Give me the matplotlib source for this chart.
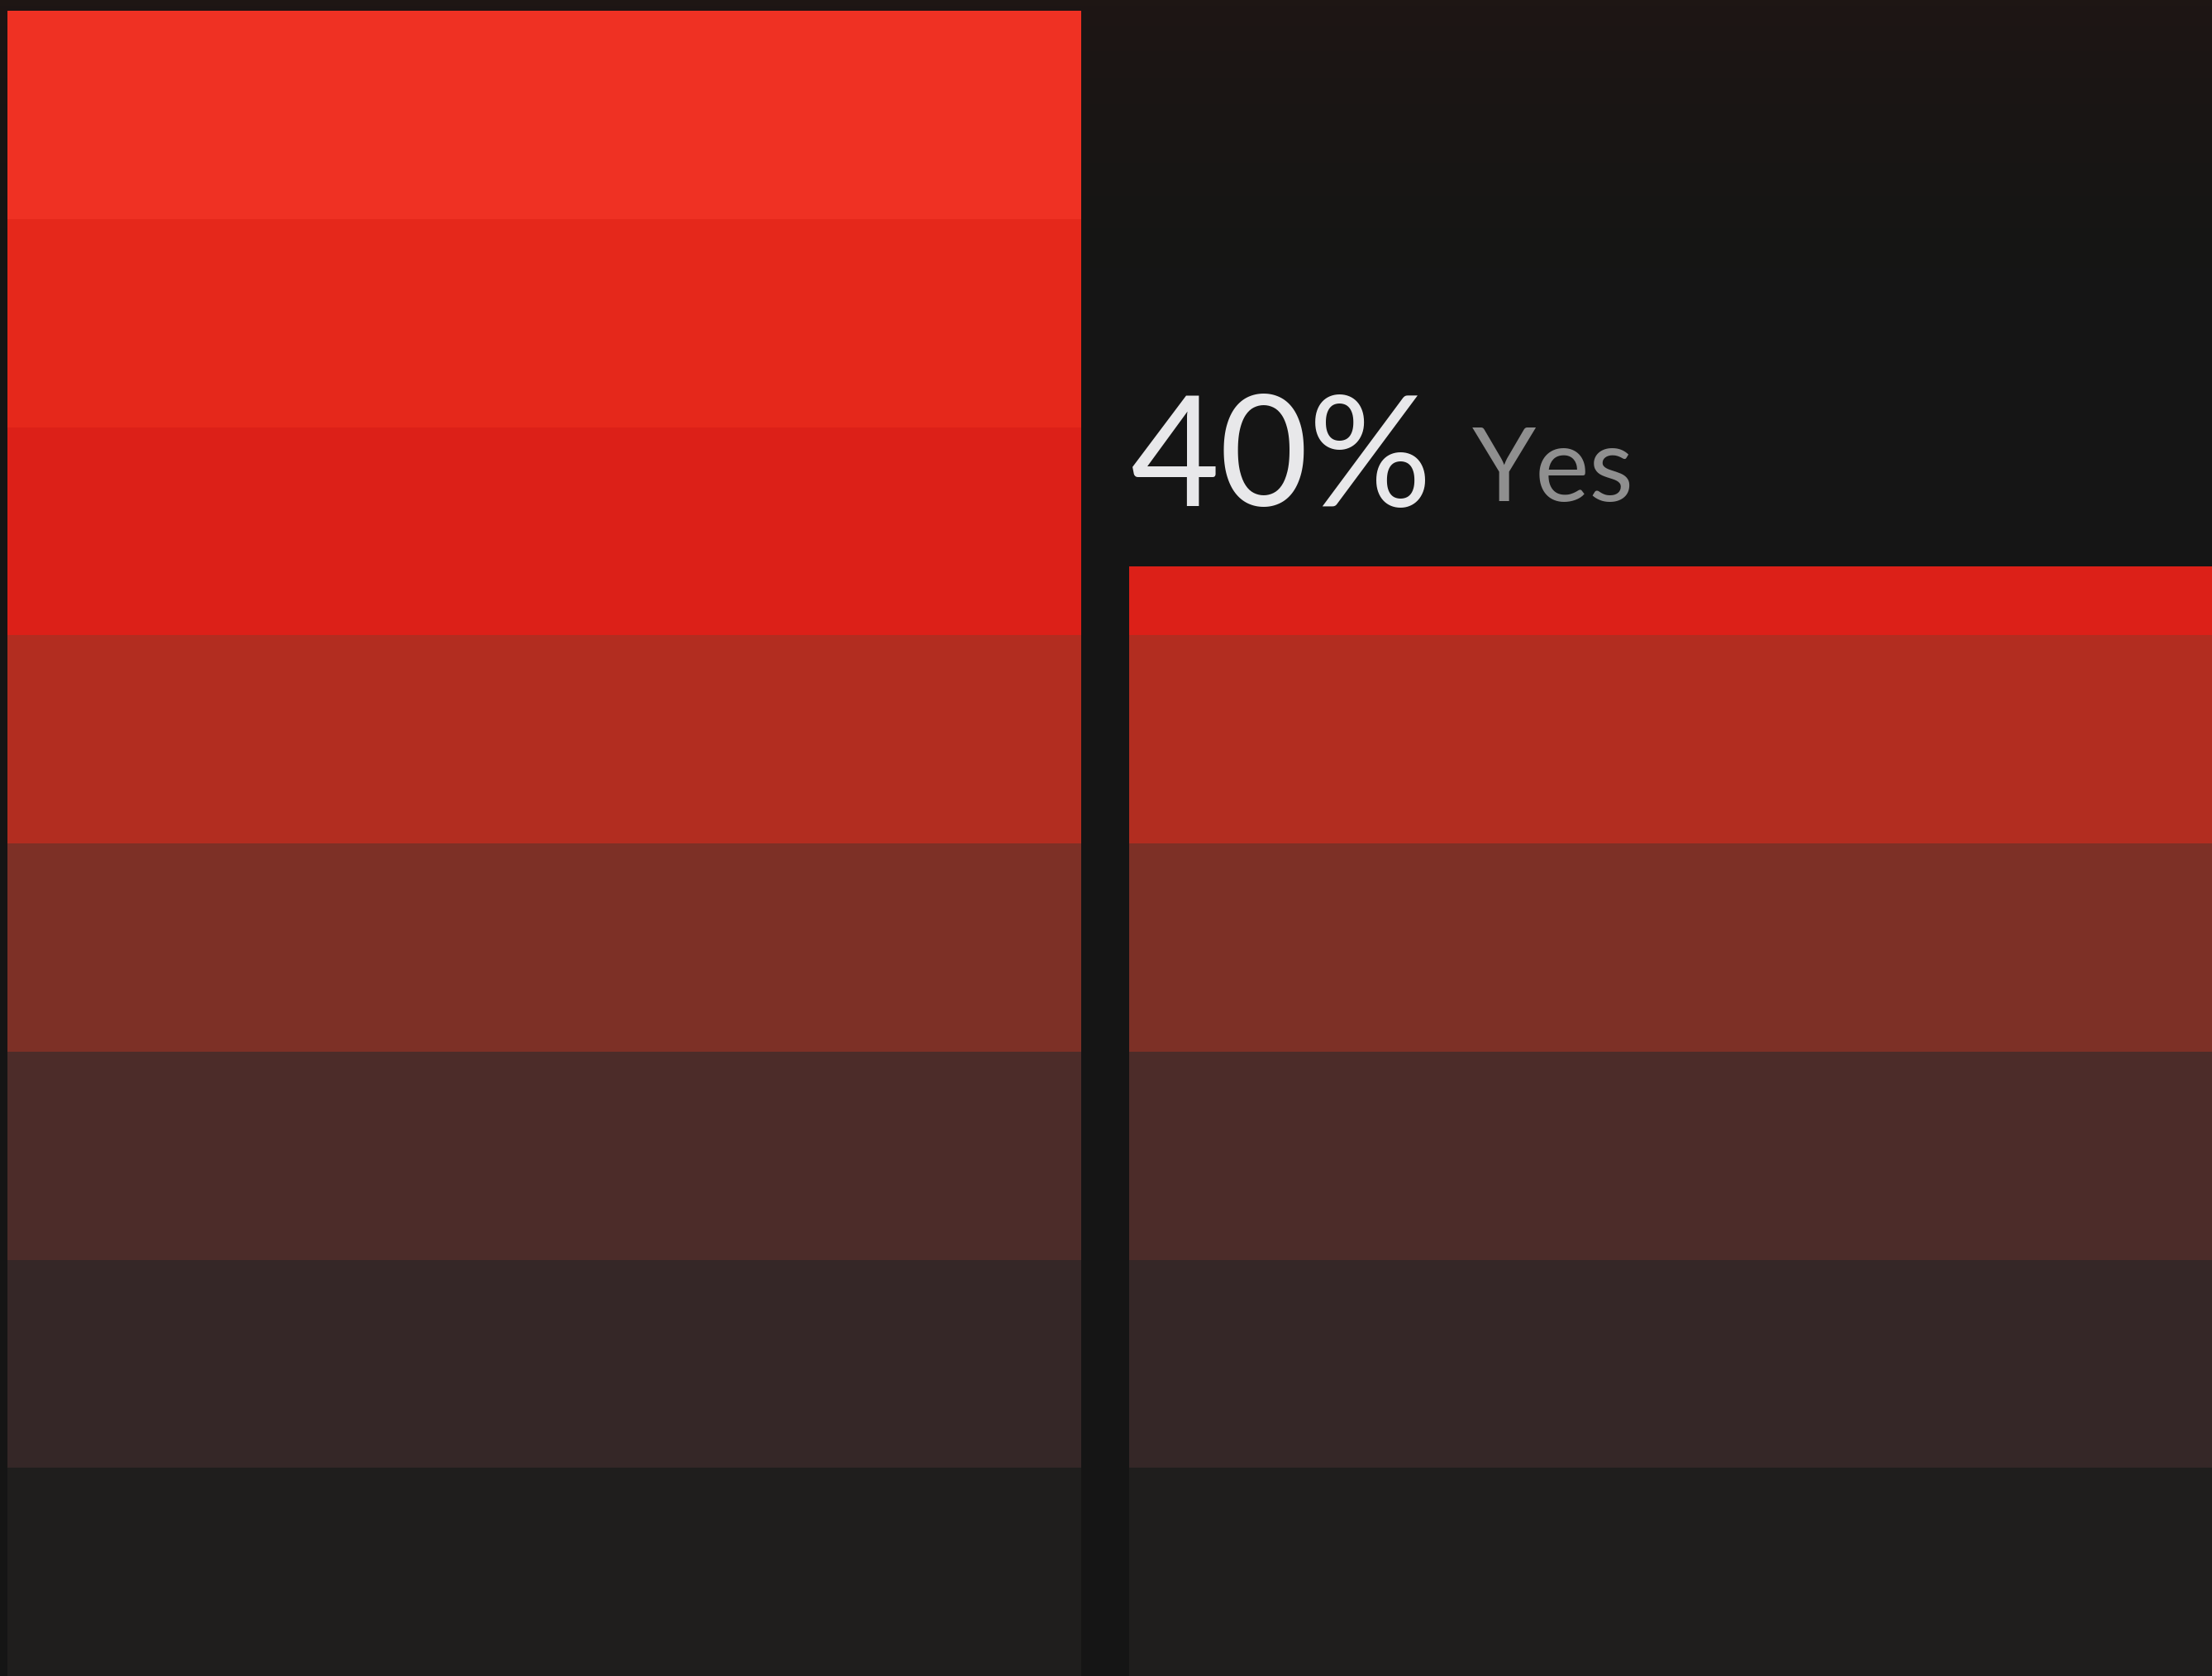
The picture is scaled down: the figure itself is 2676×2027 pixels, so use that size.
import numpy as np
import matplotlib
matplotlib.use("Agg")
import matplotlib.pyplot as plt
from matplotlib.colors import LinearSegmentedColormap

# ---- data ----
categories = ["No", "Yes"]
values = [60, 40]
label_text = "40%"
label_word = "Yes"
band_step = 7.5
band_colors = ["#1F1E1D", "#352727", "#4C2C29", "#7D3026",
               "#B22D20", "#DC2018", "#E5281B", "#EF3123"]  # bottom -> top

BG = "#151515"
W, H, DPI = 2676, 2028, 100

fig = plt.figure(figsize=(W / DPI, (H - 0.4) / DPI), dpi=DPI, facecolor=BG)
ax = fig.add_axes([0, 0, 1, 1])
ax.set_facecolor(BG)

# background glow (subtle reddish at the top)
grad = np.linspace(0, 1, 256).reshape(-1, 1)
cmap_bg = LinearSegmentedColormap.from_list("bg", [BG, BG, "#1E1614"])
ax.imshow(np.power(grad, 4), cmap=cmap_bg, extent=(0, 1, 0, 1), origin="lower",
          aspect="auto", transform=ax.transAxes, zorder=0, vmin=0, vmax=1)

unit = 1357.0
widths = [1299 / unit, 1330 / unit]
x = np.arange(len(categories), dtype=float)
edges = np.arange(0, max(values) + band_step, band_step)
for i, v in enumerate(values):
    for b in range(len(edges) - 1):
        lo, hi = edges[b], edges[b + 1]
        if lo >= v:
            break
        ax.bar(x[i], min(hi, v) - lo, bottom=lo, width=widths[i], align="edge",
               color=band_colors[b], edgecolor="none", zorder=2)

ax.set_xlim(-9 / unit, (W - 9) / unit)
ax.set_ylim(0, max(values) * H / (H - 14))
ax.axis("off")

font = ["Lato", "DejaVu Sans"]
px = 72.0 / DPI
ax.annotate(label_text, xy=(x[1], values[1]), xytext=(2 * px, 73 * px),
            textcoords="offset points", ha="left", va="baseline",
            fontsize=134, color="#E8E8EA", family=font, zorder=3)
ax.annotate(label_word, xy=(x[1], values[1]), xytext=(415 * px, 79 * px),
            textcoords="offset points", ha="left", va="baseline",
            fontsize=89, color="#8F8F8F", family=font, zorder=3)

fig.savefig("out.png", dpi=DPI, facecolor=BG)
